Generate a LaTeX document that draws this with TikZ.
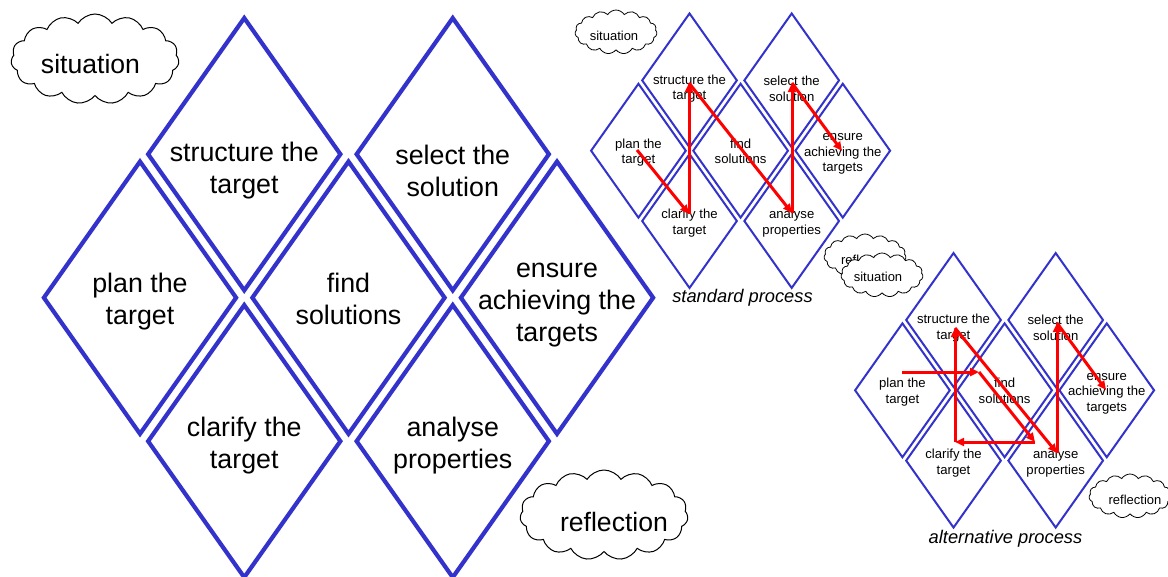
\documentclass[tikz,border=0pt]{standalone}
\usepackage{fontspec}
\setmainfont{Liberation Sans}
\usetikzlibrary{shapes.geometric,shapes.symbols,arrows.meta}
\definecolor{dblue}{RGB}{51,51,204}
\tikzset{
  diamondbox/.style={diamond, draw=dblue, line width=4.2pt, minimum width=194pt, minimum height=274pt, inner sep=0pt},
  lbl/.style={align=center, inner sep=0pt, font=\fontsize{26.8}{32}\selectfont},
  bigcloud/.style={cloud, cloud puffs=15, cloud puff arc=115, cloud ignores aspect, draw=black, line width=1pt, fill=white, inner sep=0pt, minimum width=168pt, minimum height=90pt},
  smallcloud/.style={bigcloud, line width=0.8pt, minimum width=82pt, minimum height=44pt},
  bigctext/.style={inner sep=0pt, font=\fontsize{26.6}{30}\selectfont},
  smallctext/.style={inner sep=0pt, font=\fontsize{13}{15}\selectfont},
  flow/.style={draw=red, line width=3pt, -{Triangle[length=9pt,width=8pt]}},
  caption/.style={font=\fontsize{18.3}{22}\selectfont\itshape, inner sep=0pt},
  pics/grid/.style={code={
    \node[diamondbox] (-structure) at (-104.25,-143.5) {};
    \node[diamondbox] (-select) at (104.25,-143.5) {};
    \node[diamondbox] (-plan) at (-208.5,0) {};
    \node[diamondbox] (-find) at (0,0) {};
    \node[diamondbox] (-ensure) at (208.5,0) {};
    \node[diamondbox] (-clarify) at (-104.25,143.5) {};
    \node[diamondbox] (-analyse) at (104.25,143.5) {};
    \node[lbl] (-structuret) at (-104.25,-127) {structure the\\target};
    \node[lbl] (-selectt) at (104.25,-127) {select the\\solution};
    \node[lbl] (-plant) at (-208.5,4) {plan the\\target};
    \node[lbl] (-findt) at (0,1) {find\\solutions};
    \node[lbl] (-ensuret) at (208.5,7) {ensure\\achieving the\\targets};
    \node[lbl] (-clarifyt) at (-104.25,148) {clarify the\\target};
    \node[lbl] (-analyset) at (104.25,148) {analyse\\properties};
  }}
}
\begin{document}
\begin{tikzpicture}[x=1pt,y=-1pt]
\useasboundingbox (0,0) rectangle (1168,576);
\fill[white] (0,0) rectangle (1168,576);

% big diagram
\pic (big) at (348.5,297.7) {grid};
\node[bigcloud] (bigsit) at (95,59) {};
\node[bigctext] (bigsitt) at (90.5,64) {situation};
\node[bigcloud] (bigref) at (604,515) {};
\node[bigctext] (bigreft) at (614,522) {reflection};

% standard process
\begin{scope}[shift={(740.6,150.7)}, scale=0.49, transform shape, diamondbox/.append style={line width=2pt}]
  \pic (std) {grid};
\end{scope}
\node[smallcloud] (stdsit) at (616,32) {};
\node[smallctext] (stdsitt) at (614,35.5) {situation};
\node[caption] (stdcap) at (742.5,298) {standard process};

\coordinate (s1) at (637,150);
\coordinate (s2) at (689,214);
\coordinate (s3) at (689,83);
\coordinate (s4) at (792,213);
\coordinate (s5) at (792,83);
\coordinate (s6) at (842,151);
\draw[flow] (s1) -- (s2);
\draw[flow] (s2) -- (s3);
\draw[flow] (s3) -- (s4);
\draw[flow] (s4) -- (s5);
\draw[flow] (s5) -- (s6);

% alternative process
\begin{scope}[shift={(1004.6,390.3)}, scale=0.49, transform shape, diamondbox/.append style={line width=2pt}]
  \pic (alt) {grid};
\end{scope}
\node[smallcloud] (altref) at (865,256) {};
\node[smallctext] (altreft) at (867.5,260) {reflection};
\node[smallcloud] (altsit) at (882,275) {};
\node[smallctext] (altsitt) at (878,277) {situation};
\node[smallcloud] (altref2) at (1130,496) {};
\node[smallctext] (altref2t) at (1135,500) {reflection};
\node[caption] (altcap) at (1005.5,538.5) {alternative process};

\coordinate (a1) at (902,372);
\coordinate (a2) at (979,372);
\coordinate (a3) at (1035,442);
\coordinate (a4) at (955,442);
\coordinate (a5) at (955,328);
\coordinate (a6) at (1057,453);
\coordinate (a7) at (1057,323);
\coordinate (a8) at (1106,390);
\draw[flow] (a1) -- (a2);
\draw[flow] (a2) -- (a3);
\draw[flow] (a3) -- (a4);
\draw[flow] (a4) -- (a5);
\draw[flow] (a5) -- (a6);
\draw[flow] (a6) -- (a7);
\draw[flow] (a7) -- (a8);
\end{tikzpicture}
\end{document}
